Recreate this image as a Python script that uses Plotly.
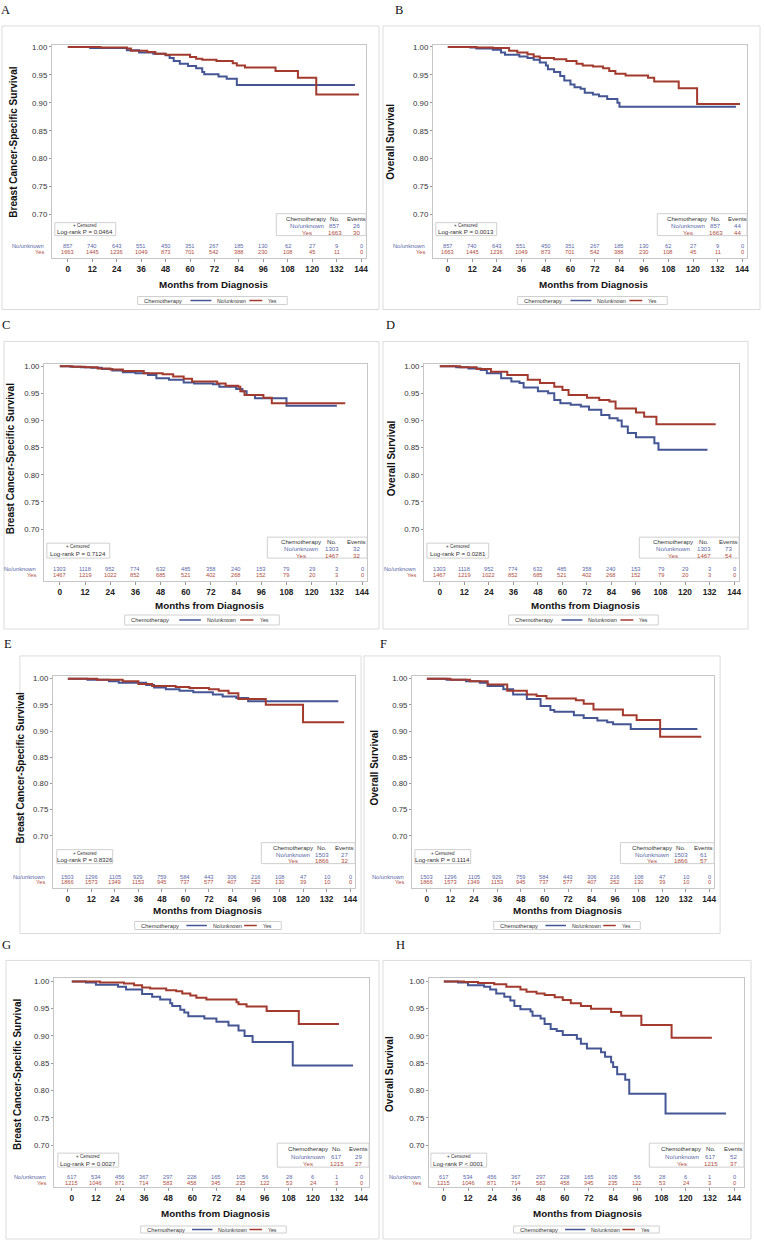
import plotly.graph_objects as go

W, H = 764, 1241
BLUE = '#445694'
RED = '#A23A2E'
BLUE_T = '#5a69a8'
RED_T = '#b04c3e'
FONT = 'Liberation Sans, Arial, sans-serif'

MONTHS = [0, 12, 24, 36, 48, 60, 72, 84, 96, 108, 120, 132, 144]
Y_TICKS = [0.70, 0.75, 0.80, 0.85, 0.90, 0.95, 1.00]
Y_TICK_TEXT = ['0.70', '0.75', '0.80', '0.85', '0.90', '0.95', '1.00']
GROUPS = ['No/unknown', 'Yes']

# ---- numbers at risk ----
risk_no_AB = [857, 740, 643, 551, 450, 351, 267, 185, 130, 62, 27, 9, 0]
risk_yes_AB = [1663, 1445, 1236, 1049, 873, 701, 542, 388, 230, 108, 45, 11, 0]
risk_no_CD = [1303, 1118, 952, 774, 632, 485, 358, 240, 153, 79, 29, 3, 0]
risk_yes_CD = [1467, 1219, 1022, 852, 685, 521, 402, 268, 152, 79, 20, 3, 0]
risk_no_EF = [1503, 1296, 1105, 929, 759, 584, 443, 306, 216, 108, 47, 10, 0]
risk_yes_EF = [1866, 1573, 1349, 1153, 945, 737, 577, 407, 252, 130, 39, 10, 0]
risk_no_GH = [617, 534, 456, 367, 297, 228, 165, 105, 56, 28, 6, 1, 0]
risk_yes_GH = [1215, 1046, 871, 714, 583, 458, 345, 235, 122, 53, 24, 3, 0]

# ---- Kaplan-Meier step curves (months, survival) ----
A_no_t = [0, 11, 29, 35, 42, 48, 50, 52, 55, 59, 63, 66, 67, 74, 78, 83, 141]
A_no_s = [1, 0.998, 0.994, 0.990, 0.988, 0.985, 0.980, 0.975, 0.970, 0.966, 0.962, 0.955, 0.951, 0.947, 0.943, 0.932, 0.932]
A_yes_t = [0, 16, 29, 31, 39, 43, 48, 60, 63, 66, 73, 81, 83, 87, 102, 113, 122, 143]
A_yes_s = [1, 0.999, 0.997, 0.993, 0.991, 0.988, 0.986, 0.982, 0.979, 0.977, 0.975, 0.971, 0.967, 0.963, 0.957, 0.945, 0.915, 0.915]

B_no_t = [0, 11, 14, 22, 26, 28, 35, 39, 42, 45, 48, 49, 52, 55, 57, 60, 62, 65, 67, 71, 74, 78, 83, 84, 141]
B_no_s = [1, 0.999, 0.997, 0.995, 0.990, 0.986, 0.983, 0.980, 0.977, 0.972, 0.967, 0.960, 0.955, 0.948, 0.940, 0.933, 0.928, 0.925, 0.918, 0.915, 0.912, 0.907, 0.900, 0.893, 0.893]
B_yes_t = [0, 14, 22, 30, 34, 39, 42, 45, 52, 58, 63, 66, 71, 76, 79, 82, 87, 98, 101, 113, 122, 143]
B_yes_s = [1, 0.999, 0.998, 0.993, 0.990, 0.987, 0.983, 0.980, 0.978, 0.975, 0.970, 0.967, 0.965, 0.962, 0.957, 0.952, 0.949, 0.945, 0.938, 0.926, 0.898, 0.898]

C_no_t = [0, 5, 10, 15, 20, 25, 30, 36, 42, 46, 52, 59, 64, 73, 76, 84, 87, 89, 93, 108, 132]
C_no_s = [1, 0.999, 0.998, 0.997, 0.995, 0.992, 0.989, 0.987, 0.984, 0.978, 0.975, 0.970, 0.968, 0.967, 0.962, 0.958, 0.954, 0.947, 0.941, 0.927, 0.927]
C_yes_t = [0, 6, 12, 18, 24, 30, 40, 49, 54, 59, 63, 75, 79, 85, 86, 88, 97, 101, 136]
C_yes_s = [1, 0.999, 0.998, 0.996, 0.994, 0.991, 0.987, 0.985, 0.981, 0.977, 0.972, 0.968, 0.964, 0.962, 0.954, 0.947, 0.942, 0.932, 0.932]

D_no_t = [0, 8, 14, 20, 23, 30, 35, 39, 41, 48, 53, 56, 59, 64, 69, 73, 79, 83, 87, 89, 92, 96, 105, 107, 131]
D_no_s = [1, 0.998, 0.996, 0.993, 0.987, 0.978, 0.972, 0.969, 0.961, 0.954, 0.950, 0.938, 0.932, 0.929, 0.926, 0.920, 0.910, 0.904, 0.900, 0.889, 0.877, 0.869, 0.858, 0.846, 0.846]
D_yes_t = [0, 10, 18, 25, 33, 43, 49, 56, 60, 63, 72, 78, 83, 86, 96, 100, 106, 135]
D_yes_s = [1, 0.998, 0.995, 0.990, 0.984, 0.975, 0.969, 0.962, 0.956, 0.947, 0.942, 0.938, 0.935, 0.922, 0.915, 0.907, 0.893, 0.893]

E_no_t = [0, 10, 21, 26, 40, 44, 50, 57, 64, 74, 79, 86, 92, 138]
E_no_s = [1, 0.998, 0.995, 0.992, 0.988, 0.983, 0.980, 0.977, 0.974, 0.970, 0.966, 0.963, 0.957, 0.957]
E_yes_t = [0, 15, 28, 36, 43, 55, 62, 72, 77, 82, 87, 101, 120, 141]
E_yes_s = [1, 0.998, 0.995, 0.990, 0.986, 0.984, 0.982, 0.980, 0.977, 0.972, 0.961, 0.950, 0.917, 0.917]

F_no_t = [0, 10, 20, 27, 31, 39, 44, 51, 58, 63, 65, 75, 80, 87, 92, 95, 104, 138]
F_no_s = [1, 0.998, 0.995, 0.992, 0.986, 0.980, 0.970, 0.961, 0.948, 0.940, 0.937, 0.930, 0.925, 0.920, 0.917, 0.913, 0.904, 0.904]
F_yes_t = [0, 12, 22, 31, 41, 51, 56, 61, 76, 80, 85, 100, 107, 119, 140]
F_yes_s = [1, 0.998, 0.995, 0.989, 0.977, 0.970, 0.967, 0.962, 0.959, 0.952, 0.941, 0.930, 0.921, 0.889, 0.889]

G_no_t = [0, 7, 12, 23, 27, 35, 40, 44, 49, 50, 54, 56, 58, 66, 72, 78, 83, 86, 90, 110, 140]
G_no_s = [1, 0.998, 0.994, 0.990, 0.985, 0.977, 0.972, 0.967, 0.960, 0.955, 0.948, 0.943, 0.936, 0.932, 0.926, 0.919, 0.910, 0.900, 0.889, 0.846, 0.846]
G_yes_t = [0, 14, 26, 31, 35, 39, 47, 52, 55, 59, 62, 67, 82, 83, 87, 97, 113, 133]
G_yes_s = [1, 0.998, 0.996, 0.993, 0.989, 0.987, 0.984, 0.982, 0.978, 0.974, 0.970, 0.967, 0.962, 0.958, 0.954, 0.946, 0.922, 0.922]

H_no_t = [0, 7, 12, 20, 23, 26, 30, 33, 35, 38, 43, 44, 48, 50, 53, 56, 59, 66, 68, 71, 78, 80, 83, 84, 86, 90, 92, 110, 140]
H_no_s = [1, 0.998, 0.993, 0.990, 0.985, 0.978, 0.972, 0.965, 0.955, 0.949, 0.945, 0.937, 0.932, 0.922, 0.913, 0.909, 0.902, 0.895, 0.886, 0.877, 0.870, 0.862, 0.852, 0.843, 0.830, 0.820, 0.794, 0.758, 0.758]
H_yes_t = [0, 10, 17, 25, 31, 38, 41, 46, 50, 55, 59, 63, 68, 73, 83, 88, 98, 113, 133]
H_yes_s = [1, 0.999, 0.997, 0.995, 0.990, 0.985, 0.981, 0.978, 0.975, 0.971, 0.966, 0.960, 0.955, 0.950, 0.944, 0.937, 0.920, 0.897, 0.897]

# ---- panel statistics ----
stats_n = {'A': (857, 1663), 'B': (857, 1663), 'C': (1303, 1467), 'D': (1303, 1467),
           'E': (1503, 1866), 'F': (1503, 1866), 'G': (617, 1215), 'H': (617, 1215)}
stats_events = {'A': (26, 30), 'B': (44, 44), 'C': (32, 32), 'D': (73, 54),
                'E': (27, 32), 'F': (61, 57), 'G': (29, 27), 'H': (52, 37)}
logrank = {'A': 'Log-rank P = 0.0464', 'B': 'Log-rank P = 0.0013', 'C': 'Log-rank P = 0.7124',
           'D': 'Log-rank P = 0.0281', 'E': 'Log-rank P = 0.8326', 'F': 'Log-rank P = 0.1114',
           'G': 'Log-rank P = 0.0027', 'H': 'Log-rank P <.0001'}
y_titles = {'A': 'Breast Cancer-Specific Survival', 'B': 'Overall Survival',
            'C': 'Breast Cancer-Specific Survival', 'D': 'Overall Survival',
            'E': 'Breast Cancer-Specific Survival', 'F': 'Overall Survival',
            'G': 'Breast Cancer-Specific Survival', 'H': 'Overall Survival'}

curves = {'A': (A_no_t, A_no_s, A_yes_t, A_yes_s), 'B': (B_no_t, B_no_s, B_yes_t, B_yes_s),
          'C': (C_no_t, C_no_s, C_yes_t, C_yes_s), 'D': (D_no_t, D_no_s, D_yes_t, D_yes_s),
          'E': (E_no_t, E_no_s, E_yes_t, E_yes_s), 'F': (F_no_t, F_no_s, F_yes_t, F_yes_s),
          'G': (G_no_t, G_no_s, G_yes_t, G_yes_s), 'H': (H_no_t, H_no_s, H_yes_t, H_yes_s)}
risks = {'A': (risk_no_AB, risk_yes_AB), 'B': (risk_no_AB, risk_yes_AB),
         'C': (risk_no_CD, risk_yes_CD), 'D': (risk_no_CD, risk_yes_CD),
         'E': (risk_no_EF, risk_yes_EF), 'F': (risk_no_EF, risk_yes_EF),
         'G': (risk_no_GH, risk_yes_GH), 'H': (risk_no_GH, risk_yes_GH)}

# ---- panel geometry in pixels ----
geom = {
    'A': dict(letter=(6, 8), frame=(2, 24, 380, 308), plot=(52, 43, 367, 256), x0=68, x144=362,
              y100=45, y070=213, risk=(244.7, 250.5), xt=283, yt=14,
              leg=(138, 295, 288, 303), cens=(55, 221, 116, 234), stats=(277, 212, 367, 234)),
    'B': dict(letter=(400, 8), frame=(384, 24, 762, 308), plot=(434, 43, 749, 256), x0=449, x144=744,
              y100=45, y070=213, risk=(244.7, 250.5), xt=283, yt=392,
              leg=(519, 295, 669, 303), cens=(437, 221, 498, 234), stats=(659, 212, 749, 234)),
    'C': dict(letter=(6, 324), frame=(4, 340, 380, 628), plot=(44, 362.5, 368, 580), x0=60, x144=363,
              y100=364.8, y070=528, risk=(568, 574), xt=604, yt=10,
              leg=(125, 614, 280, 624), cens=(47, 542, 110, 557), stats=(268, 536, 368, 557)),
    'D': dict(letter=(392, 324), frame=(384, 340, 750, 628), plot=(425, 362.5, 741, 580), x0=441, x144=736,
              y100=364.8, y070=528, risk=(568, 574), xt=604, yt=392,
              leg=(510, 614, 660, 624), cens=(428, 542, 490, 557), stats=(641, 536, 741, 557)),
    'E': dict(letter=(8, 643), frame=(20, 655, 362, 933), plot=(53, 675.5, 356, 887), x0=68, x144=351,
              y100=677.75, y070=835.25, risk=(876, 881.5), xt=910, yt=21,
              leg=(135, 921, 282, 929), cens=(57, 849, 113, 863), stats=(262, 842, 356, 863)),
    'F': dict(letter=(385, 643), frame=(365, 655, 722, 933), plot=(413, 675.5, 716, 887), x0=428, x144=711,
              y100=677.75, y070=835.25, risk=(876, 881.5), xt=910, yt=375,
              leg=(495, 921, 642, 929), cens=(416, 849, 472, 863), stats=(622, 842, 716, 863)),
    'G': dict(letter=(7, 945), frame=(6, 960, 380, 1239), plot=(54, 978, 370, 1187), x0=72, x144=362,
              y100=981, y070=1145, risk=(1177, 1183), xt=1213, yt=18,
              leg=(141, 1226, 287, 1233), cens=(58, 1153, 119, 1167), stats=(278, 1143, 370, 1167)),
    'H': dict(letter=(402, 945), frame=(384, 960, 753, 1239), plot=(430, 978, 746, 1187), x0=445, x144=736,
              y100=981, y070=1145, risk=(1177, 1183), xt=1213, yt=391,
              leg=(515, 1226, 661, 1233), cens=(432, 1153, 488, 1167), stats=(651, 1143, 746, 1167)),
}


def px(xp):
    return xp / W


def py(yp):
    return 1 - yp / H


fig = go.Figure()
ann = []
shp = []
axes = {}

for i, key in enumerate('ABCDEFGH', start=1):
    g = geom[key]
    xa = 'x' if i == 1 else f'x{i}'
    ya = 'y' if i == 1 else f'y{i}'
    l, t, r, b = g['plot']
    ppm = (g['x144'] - g['x0']) / 144.0
    ppv = (g['y070'] - g['y100']) / 0.30
    xr = [(l - g['x0']) / ppm, (r - g['x0']) / ppm]
    yr = [0.70 - (b - g['y070']) / ppv, 1.00 + (g['y100'] - t) / ppv]
    axes['xaxis' if i == 1 else f'xaxis{i}'] = dict(
        domain=[px(l), px(r)], range=xr, anchor=ya, tickmode='array', tickvals=MONTHS,
        ticktext=[f'<b>{m}</b>' for m in MONTHS], ticks='outside', ticklen=3, tickcolor='#999',
        showline=True, linecolor='#c6c6c6', linewidth=1, mirror=True, showgrid=False, zeroline=False,
        tickfont=dict(family=FONT, size=8.3, color='#222'), fixedrange=True)
    axes['yaxis' if i == 1 else f'yaxis{i}'] = dict(
        domain=[py(b), py(t)], range=yr, anchor=xa, tickmode='array', tickvals=Y_TICKS,
        ticktext=Y_TICK_TEXT, ticks='outside', ticklen=2, tickcolor='#999',
        showline=True, linecolor='#c6c6c6', linewidth=1, mirror=True, showgrid=False, zeroline=False,
        tickfont=dict(family=FONT, size=7.8, color='#333'), fixedrange=True)

    no_t, no_s, yes_t, yes_s = curves[key]
    fig.add_trace(go.Scatter(x=no_t, y=no_s, xaxis=xa, yaxis=ya, mode='lines',
                             line=dict(color=BLUE, width=2, shape='hv'), showlegend=False, hoverinfo='skip'))
    fig.add_trace(go.Scatter(x=yes_t, y=yes_s, xaxis=xa, yaxis=ya, mode='lines',
                             line=dict(color=RED, width=2, shape='hv'), showlegend=False, hoverinfo='skip'))

    # panel letter
    ann.append(dict(x=px(g['letter'][0]), y=py(g['letter'][1]), xref='paper', yref='paper', text=key,
                    showarrow=False, xanchor='center', yanchor='middle',
                    font=dict(family='Liberation Serif, Times New Roman, serif', size=12.5, color='#111')))
    # panel frame
    fx0, fy0, fx1, fy1 = g['frame']
    shp.append(dict(type='rect', xref='paper', yref='paper', x0=px(fx0), x1=px(fx1), y0=py(fy1), y1=py(fy0),
                    line=dict(color='#dcdcdc', width=1), layer='below'))

    # y title
    ann.append(dict(x=px(g['yt']), y=py(g['y100'] + 0.565 * (g['y070'] - g['y100'])), xref='paper', yref='paper',
                    text=f'<b>{y_titles[key]}</b>', textangle=-90, showarrow=False,
                    xanchor='center', yanchor='middle', font=dict(family=FONT, size=10, color='#111')))
    # x title
    ann.append(dict(x=71.5, xref=xa, y=py(g['xt']), yref='paper', text='<b>Months from Diagnosis</b>',
                    showarrow=False, xanchor='center', yanchor='middle', font=dict(family=FONT, size=9.8, color='#111')))

    # risk table
    rno, ryes = risks[key]
    for m, vn, vy in zip(MONTHS, rno, ryes):
        ann.append(dict(x=m, xref=xa, y=py(g['risk'][0]), yref='paper', text=str(vn), showarrow=False,
                        xanchor='center', yanchor='middle', font=dict(family=FONT, size=5.7, color=BLUE_T)))
        ann.append(dict(x=m, xref=xa, y=py(g['risk'][1]), yref='paper', text=str(vy), showarrow=False,
                        xanchor='center', yanchor='middle', font=dict(family=FONT, size=5.7, color=RED_T)))
    ann.append(dict(x=px(l - 6), y=py(g['risk'][0]), xref='paper', yref='paper', text=GROUPS[0], showarrow=False,
                    xanchor='right', yanchor='middle', font=dict(family=FONT, size=5.7, color=BLUE_T)))
    ann.append(dict(x=px(l - 6), y=py(g['risk'][1]), xref='paper', yref='paper', text=GROUPS[1], showarrow=False,
                    xanchor='right', yanchor='middle', font=dict(family=FONT, size=5.7, color=RED_T)))

    # censored / log-rank box
    cx0, cy0, cx1, cy1 = g['cens']
    shp.append(dict(type='rect', xref='paper', yref='paper', x0=px(cx0), x1=px(cx1), y0=py(cy1), y1=py(cy0),
                    line=dict(color='#d0d0d0', width=1), fillcolor='white'))
    ch = cy1 - cy0
    ann.append(dict(x=px((cx0 + cx1) / 2), y=py(cy0 + 0.25 * ch), xref='paper', yref='paper', text='+ Censored',
                    showarrow=False, xanchor='center', yanchor='middle', font=dict(family=FONT, size=4.5, color='#333')))
    ann.append(dict(x=px((cx0 + cx1) / 2), y=py(cy0 + 0.72 * ch), xref='paper', yref='paper', text=logrank[key],
                    showarrow=False, xanchor='center', yanchor='middle', font=dict(family=FONT, size=6.1, color='#333')))

    # statistics box
    sx0, sy0, sx1, sy1 = g['stats']
    shp.append(dict(type='rect', xref='paper', yref='paper', x0=px(sx0), x1=px(sx1), y0=py(sy1), y1=py(sy0),
                    line=dict(color='#d0d0d0', width=1), fillcolor='white'))
    sw, sh = sx1 - sx0, sy1 - sy0
    cols = [0.34, 0.65, 0.89]
    rows = [0.23, 0.55, 0.86]
    n_no, n_yes = stats_n[key]
    e_no, e_yes = stats_events[key]
    table = [(['Chemotherapy', 'No.', 'Events'], '#333'),
             ([GROUPS[0], str(n_no), str(e_no)], BLUE_T),
             ([GROUPS[1], str(n_yes), str(e_yes)], RED_T)]
    for (cells, col), rf in zip(table, rows):
        for txt, cf in zip(cells, cols):
            ann.append(dict(x=px(sx0 + cf * sw), y=py(sy0 + rf * sh), xref='paper', yref='paper', text=txt,
                            showarrow=False, xanchor='center', yanchor='middle',
                            font=dict(family=FONT, size=6.1, color=col)))

    # legend box
    lx0, ly0, lx1, ly1 = g['leg']
    lw = lx1 - lx0
    lyc = (ly0 + ly1) / 2
    shp.append(dict(type='rect', xref='paper', yref='paper', x0=px(lx0), x1=px(lx1), y0=py(ly1), y1=py(ly0),
                    line=dict(color='#d0d0d0', width=1)))
    ann.append(dict(x=px(lx0 + 0.027 * lw), y=py(lyc), xref='paper', yref='paper', text='Chemotherapy',
                    showarrow=False, xanchor='left', yanchor='middle', font=dict(family=FONT, size=5.8, color='#333')))
    shp.append(dict(type='line', xref='paper', yref='paper', x0=px(lx0 + 0.353 * lw), x1=px(lx0 + 0.493 * lw),
                    y0=py(lyc), y1=py(lyc), line=dict(color=BLUE, width=1.5)))
    ann.append(dict(x=px(lx0 + 0.52 * lw), y=py(lyc), xref='paper', yref='paper', text=GROUPS[0],
                    showarrow=False, xanchor='left', yanchor='middle', font=dict(family=FONT, size=5.2, color='#333')))
    shp.append(dict(type='line', xref='paper', yref='paper', x0=px(lx0 + 0.747 * lw), x1=px(lx0 + 0.833 * lw),
                    y0=py(lyc), y1=py(lyc), line=dict(color=RED, width=1.5)))
    ann.append(dict(x=px(lx0 + 0.86 * lw), y=py(lyc), xref='paper', yref='paper', text=GROUPS[1],
                    showarrow=False, xanchor='left', yanchor='middle', font=dict(family=FONT, size=5.2, color='#333')))

fig.update_layout(width=W, height=H, autosize=False, margin=dict(l=0, r=0, t=0, b=0),
                  paper_bgcolor='white', plot_bgcolor='white', showlegend=False,
                  annotations=ann, shapes=shp, **axes)

# remove the browser's default 8px body margin so the figure sits at the page origin
fig.write_html('out.html', config={'displayModeBar': False},
               post_script="document.body.style.margin='0';document.body.style.overflow='hidden';")
